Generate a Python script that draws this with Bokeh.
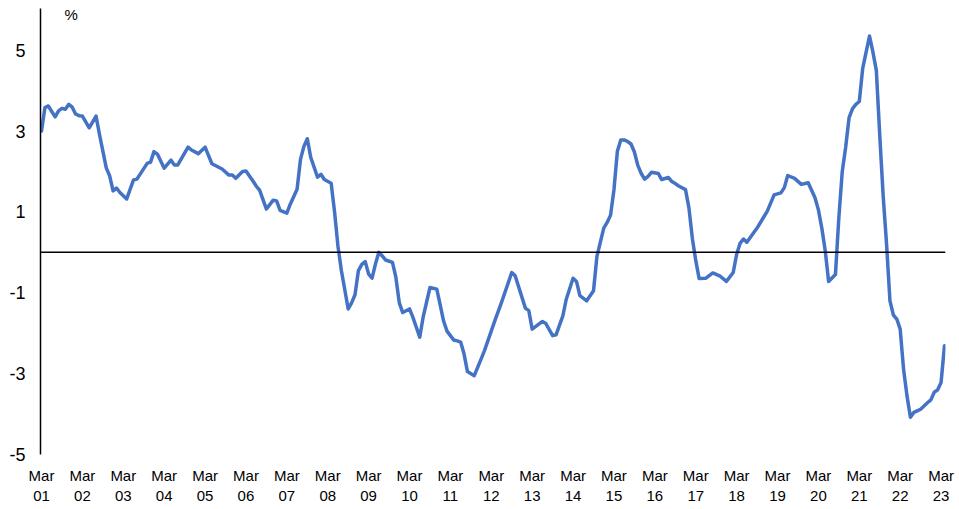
from bokeh.plotting import figure
from bokeh.models import FixedTicker, Span, Label, Range1d
from bokeh.embed import file_html
from bokeh.resources import INLINE

# Data (%), by month
months = [
    "2001-03", "2001-04", "2001-05", "2001-07", "2001-08", "2001-09", "2001-10", "2001-11", "2001-12",
    "2002-01", "2002-02", "2002-03", "2002-05", "2002-07", "2002-08", "2002-10", "2002-11", "2002-12",
    "2003-01", "2003-02", "2003-04", "2003-06", "2003-07", "2003-10", "2003-11", "2003-12",
    "2004-01", "2004-03", "2004-05", "2004-06", "2004-07", "2004-10", "2004-11",
    "2005-01", "2005-03", "2005-05", "2005-08", "2005-10", "2005-11", "2005-12",
    "2006-02", "2006-03", "2006-05", "2006-06", "2006-07", "2006-09", "2006-11", "2006-12",
    "2007-01", "2007-03", "2007-04", "2007-06", "2007-07", "2007-08", "2007-09", "2007-10", "2007-12",
    "2008-01", "2008-02", "2008-04", "2008-05", "2008-06", "2008-07", "2008-09", "2008-10", "2008-11", "2008-12",
    "2009-01", "2009-02", "2009-03", "2009-04", "2009-05", "2009-06", "2009-07", "2009-08", "2009-10", "2009-11", "2009-12",
    "2010-01", "2010-03", "2010-04", "2010-06", "2010-07", "2010-09", "2010-11", "2010-12",
    "2011-01", "2011-02", "2011-04", "2011-05", "2011-06", "2011-07", "2011-08", "2011-10", "2011-12",
    "2012-01", "2012-04", "2012-06", "2012-09", "2012-10",
    "2013-01", "2013-02", "2013-03", "2013-06", "2013-07", "2013-09", "2013-10", "2013-12",
    "2014-01", "2014-03", "2014-04", "2014-05", "2014-07", "2014-09", "2014-10", "2014-12",
    "2015-01", "2015-02", "2015-03", "2015-04", "2015-05", "2015-06", "2015-07", "2015-08", "2015-09",
    "2015-10", "2015-11", "2015-12",
    "2016-01", "2016-02", "2016-04", "2016-05", "2016-07", "2016-08", "2016-09", "2016-10", "2016-12",
    "2017-01", "2017-02", "2017-03", "2017-04", "2017-06", "2017-08", "2017-10", "2017-12",
    "2018-02", "2018-03", "2018-04", "2018-05", "2018-06", "2018-09", "2018-11", "2018-12",
    "2019-02", "2019-04", "2019-05", "2019-06", "2019-08", "2019-10", "2019-12",
    "2020-02", "2020-03", "2020-04", "2020-05", "2020-06", "2020-08", "2020-09", "2020-10", "2020-11", "2020-12",
    "2021-01", "2021-02", "2021-03", "2021-04", "2021-05", "2021-06", "2021-07", "2021-08", "2021-09",
    "2021-10", "2021-11", "2021-12",
    "2022-01", "2022-02", "2022-03", "2022-04", "2022-05", "2022-06", "2022-07", "2022-08", "2022-09",
    "2022-10", "2022-11", "2022-12",
    "2023-01", "2023-02", "2023-03", "2023-04",
]
values = [
    3.00, 3.58, 3.62, 3.35, 3.50, 3.56, 3.54, 3.66, 3.59,
    3.42, 3.38, 3.37, 3.08, 3.37, 2.92, 2.09, 1.89, 1.52,
    1.59, 1.48, 1.32, 1.79, 1.81, 2.20, 2.23, 2.49,
    2.43, 2.08, 2.28, 2.16, 2.16, 2.60, 2.53,
    2.44, 2.60, 2.19, 2.06, 1.91, 1.91, 1.83,
    2.00, 2.01, 1.77, 1.64, 1.54, 1.07, 1.29, 1.27,
    1.04, 0.97, 1.19, 1.56, 2.30, 2.62, 2.81, 2.35, 1.86,
    1.93, 1.80, 1.71, 1.00, 0.15, -0.45, -1.40, -1.25, -1.05, -0.45,
    -0.30, -0.23, -0.54, -0.64, -0.29, 0.00, -0.09, -0.19, -0.25, -0.62, -1.25,
    -1.49, -1.40, -1.61, -2.10, -1.60, -0.87, -0.91, -1.30,
    -1.70, -1.95, -2.17, -2.19, -2.22, -2.51, -2.95, -3.05, -2.64,
    -2.43, -1.70, -1.24, -0.50, -0.58,
    -1.38, -1.44, -1.90, -1.71, -1.76, -2.06, -2.04, -1.57,
    -1.16, -0.64, -0.72, -1.07, -1.20, -0.95, -0.10, 0.60,
    0.74, 0.92, 1.55, 2.50, 2.78, 2.78, 2.74, 2.68, 2.48,
    2.15, 1.95, 1.81,
    1.88, 1.98, 1.95, 1.80, 1.85, 1.75, 1.70, 1.64, 1.55,
    1.10, 0.35, -0.20, -0.65, -0.64, -0.51, -0.58, -0.72,
    -0.50, -0.05, 0.22, 0.33, 0.25, 0.60, 0.88, 1.02,
    1.42, 1.47, 1.60, 1.90, 1.83, 1.68, 1.72,
    1.35, 1.05, 0.60, 0.04, -0.72, -0.55, 0.86, 2.00, 2.60, 3.33,
    3.55, 3.66, 3.73, 4.55, 4.95, 5.35, 4.95, 4.50, 2.90,
    1.40, 0.20, -1.20,
    -1.55, -1.65, -1.90, -2.90, -3.55, -4.08, -3.96, -3.92, -3.88,
    -3.80, -3.72, -3.65,
    -3.46, -3.40, -3.22, -2.31,
]
tick_years = ["01", "02", "03", "04", "05", "06", "07", "08", "09", "10", "11", "12",
              "13", "14", "15", "16", "17", "18", "19", "20", "21", "22", "23"]
y_ticks = [-5, -3, -1, 1, 3, 5]

def month_index(s):
    y, m = s.split("-")
    return (int(y) - 2001) * 12 + (int(m) - 3)

xs = [month_index(s) for s in months]
tick_pos = [(2000 + int(t) - 2001) * 12 for t in tick_years]

FONT = "Liberation Sans"
Y0, Y1 = -5, 6.03
FRAME_H = 446
UNIT_PER_PX = (Y1 - Y0) / FRAME_H

p = figure(width=959, height=509, output_backend="svg", toolbar_location=None,
           x_range=Range1d(-0.3, 265.3), y_range=Range1d(Y0, Y1),
           min_border_left=40, min_border_right=14, min_border_top=8, min_border_bottom=55)
p.outline_line_color = None
p.background_fill_color = "white"
p.border_fill_color = "white"
p.xgrid.visible = False
p.ygrid.visible = False

p.add_layout(Span(location=0, dimension="width", line_color="black", line_width=1.5))
p.line(xs, values, line_color="#4472C4", line_width=3.5, line_join="round", line_cap="round")

p.yaxis.ticker = FixedTicker(ticks=y_ticks)
p.yaxis.major_label_overrides = {t: str(t) for t in y_ticks}
p.yaxis.axis_line_color = "black"
p.yaxis.axis_line_width = 1.5
p.yaxis.major_tick_line_color = None
p.yaxis.minor_tick_line_color = None
p.yaxis.major_tick_out = 0
p.yaxis.major_label_standoff = 15
p.yaxis.major_label_text_font = FONT
p.yaxis.major_label_text_font_size = "18px"
p.yaxis.major_label_text_color = "black"

p.xaxis.ticker = FixedTicker(ticks=tick_pos)
p.xaxis.major_label_overrides = {pos: "Mar\n" + t for pos, t in zip(tick_pos, tick_years)}
p.xaxis.axis_line_color = None
p.xaxis.major_tick_line_color = None
p.xaxis.minor_tick_line_color = None
p.xaxis.major_tick_out = 0
p.xaxis.major_label_standoff = 12
p.xaxis.major_label_text_font = FONT
p.xaxis.major_label_text_font_size = "15px"
p.xaxis.major_label_text_color = "black"

p.add_layout(Label(x=6.75, y=Y1 - 5.5 * UNIT_PER_PX, text="%", text_font=FONT, text_font_size="15px",
                   text_color="black", text_baseline="middle", text_align="left"))

open("out.html", "w").write(file_html(p, INLINE))
